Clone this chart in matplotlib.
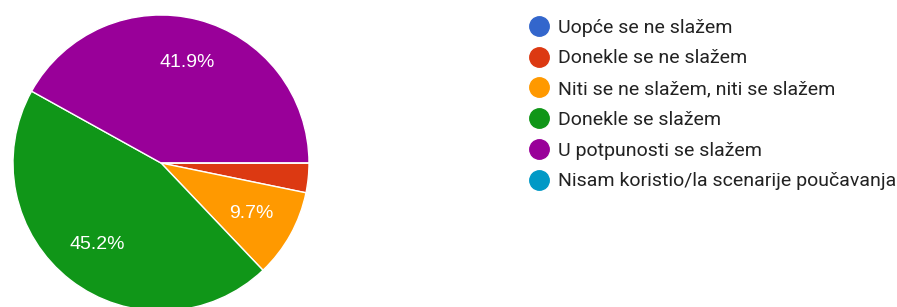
import numpy as np
import matplotlib.pyplot as plt
from matplotlib.lines import Line2D

# odgovori (31 ispitanik)
labels = ["Uopće se ne slažem",
          "Donekle se ne slažem",
          "Niti se ne slažem, niti se slažem",
          "Donekle se slažem",
          "U potpunosti se slažem",
          "Nisam koristio/la scenarije poučavanja"]
counts = [0, 1, 3, 14, 13, 0]
colors = ["#3366cc", "#dc3912", "#ff9900", "#109618", "#990099", "#0099c6"]

fig = plt.figure(figsize=(8.97, 3.07), dpi=100)
W, H = 897.0, 307.0
cx, cy, r = 161.0, 163.0, 148.0
ax = fig.add_axes([(cx - r) / W, (H - cy - r) / H, 2 * r / W, 2 * r / H])
ax.axis("off")


def pct(p):
    return "%.1f%%" % p if p > 5 else ""


wedges, texts, autotexts = ax.pie(counts, colors=colors, startangle=0, counterclock=False,
                                  radius=1, autopct=pct, pctdistance=0.7,
                                  wedgeprops={"edgecolor": "white", "linewidth": 1},
                                  textprops={"color": "white", "fontsize": 14,
                                             "family": "Liberation Sans"})
ax.set_xlim(-1, 1)
ax.set_ylim(-1, 1)

handles = [Line2D([], [], marker="o", linestyle="none", markersize=14,
                  markerfacecolor=c, markeredgecolor=c) for c in colors]
leg = fig.legend(handles, labels, loc="upper left", bbox_to_anchor=(520 / W, 1 - 9 / H),
                 frameon=False, prop={"family": "Roboto", "size": 14},
                 labelspacing=0.655, handletextpad=0.45, handlelength=1.0, borderpad=0)
for t in leg.get_texts():
    t.set_color("#222222")

fig.savefig("out.png", dpi=100)
